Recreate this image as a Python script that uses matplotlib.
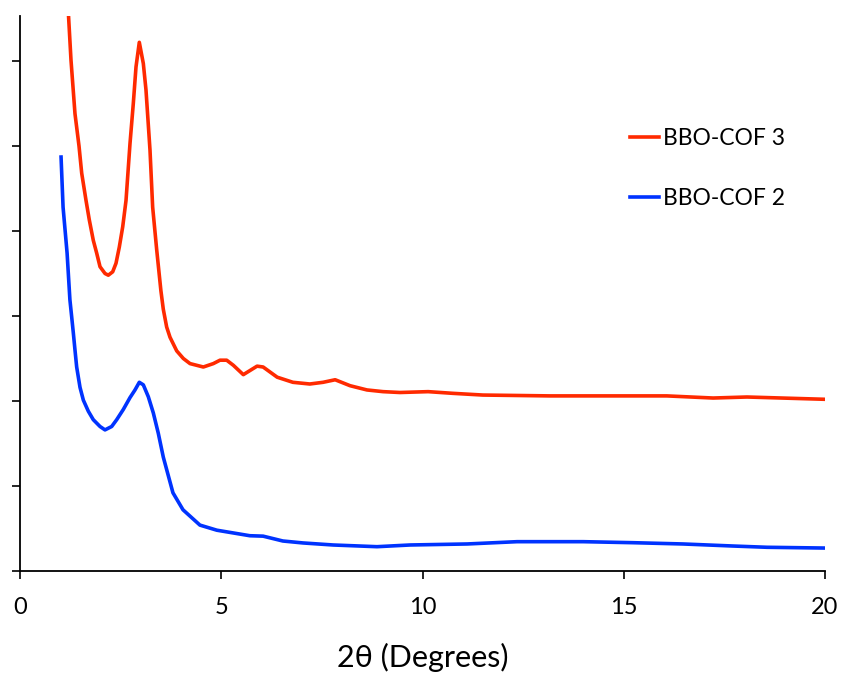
import matplotlib
matplotlib.use("Agg")
import matplotlib.pyplot as plt

# BBO-COF 3 (red)
cof3_x = [1.20, 1.267, 1.366, 1.466, 1.533, 1.640, 1.722, 1.821, 1.905, 1.988, 2.112, 2.194,
          2.303, 2.385, 2.467, 2.552, 2.634, 2.733, 2.815, 2.882, 2.964, 3.064, 3.130, 3.230,
          3.296, 3.396, 3.500, 3.560, 3.644, 3.727, 3.893, 4.058, 4.224, 4.555, 4.803, 4.969, 5.135,
          5.301, 5.548, 5.89, 6.04, 6.39, 6.78, 7.20, 7.53, 7.83, 8.20, 8.62, 9.02, 9.44,
          10.14, 10.76, 11.50, 13.17, 16.07, 17.22, 18.06, 20.0]
cof3_y = [6.58, 6.01, 5.38, 5.00, 4.68, 4.36, 4.13, 3.89, 3.74, 3.58, 3.50, 3.48,
          3.52, 3.62, 3.81, 4.05, 4.36, 5.03, 5.50, 5.93, 6.22, 5.97, 5.66, 4.95,
          4.28, 3.78, 3.30, 3.08, 2.87, 2.75, 2.59, 2.50, 2.44, 2.40, 2.44, 2.48, 2.48,
          2.42, 2.31, 2.41, 2.40, 2.28, 2.22, 2.20, 2.22, 2.25, 2.18, 2.13, 2.11, 2.10,
          2.11, 2.09, 2.07, 2.06, 2.06, 2.035, 2.047, 2.02]

# BBO-COF 2 (blue)
cof2_x = [1.02, 1.07, 1.17, 1.24, 1.284, 1.325, 1.366, 1.408, 1.491, 1.574, 1.697, 1.821,
          1.988, 2.112, 2.278, 2.402, 2.566, 2.733, 2.857, 2.964, 3.064, 3.188, 3.312, 3.436,
          3.56, 3.80, 4.05, 4.47, 4.89, 5.71, 6.04, 6.53, 7.03, 7.78, 8.87, 9.69, 11.11,
          12.35, 13.99, 15.23, 16.47, 17.71, 18.56, 20.0]
cof2_y = [4.87, 4.28, 3.74, 3.19, 2.99, 2.80, 2.60, 2.40, 2.16, 2.01, 1.88, 1.78,
          1.70, 1.66, 1.70, 1.78, 1.90, 2.04, 2.13, 2.22, 2.19, 2.05, 1.86, 1.62,
          1.34, 0.92, 0.72, 0.54, 0.48, 0.415, 0.41, 0.353, 0.33, 0.306, 0.286, 0.306, 0.318,
          0.345, 0.345, 0.333, 0.318, 0.294, 0.279, 0.27]

x_ticks = [0, 5, 10, 15, 20]
y_ticks = [0, 1, 2, 3, 4, 5, 6]

plt.rcParams['font.family'] = ['Lato', 'DejaVu Sans']

fig = plt.figure(figsize=(8.45, 6.79), dpi=100)
ax = fig.add_axes([20/845, 1 - 571/679, 805/845, (571 - 16)/679])

ax.plot(cof3_x, cof3_y, color='#ff2a00', lw=2.6, label='BBO-COF 3')
ax.plot(cof2_x, cof2_y, color='#0033ff', lw=2.6, label='BBO-COF 2')

ax.set_xlim(0, 20)
ax.set_ylim(0, (571 - 16) / 85)
ax.set_xticks(x_ticks)
ax.set_yticks(y_ticks)
ax.set_yticklabels([])
ax.tick_params(axis='both', direction='out', length=6, width=1.2, color='black')
ax.tick_params(axis='x', labelsize=17, pad=13)
for s in ['top', 'right']:
    ax.spines[s].set_visible(False)
for s in ['left', 'bottom']:
    ax.spines[s].set_linewidth(1.3)

ax.set_xlabel('2θ (Degrees)', fontsize=22, labelpad=18)

leg = ax.legend(loc='upper left', bbox_to_anchor=(0.732, 0.835), frameon=False,
                fontsize=16.5, handlelength=1.25, handletextpad=0.2, labelspacing=1.7)

fig.savefig('out.png', dpi=100)
